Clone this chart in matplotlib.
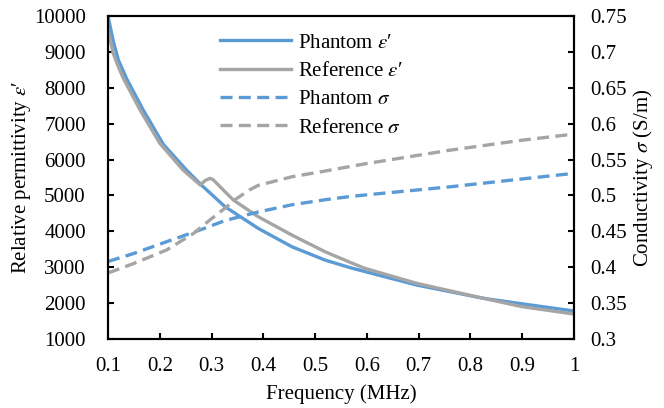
import matplotlib.pyplot as plt
from matplotlib.ticker import FuncFormatter

plt.rcParams['font.family'] = ['Liberation Serif', 'DejaVu Serif']
plt.rcParams['mathtext.fontset'] = 'stix'
plt.rcParams['font.size'] = 15

# Phantom permittivity (blue solid)
f_ph_eps = [0.100, 0.110, 0.120, 0.136, 0.168, 0.207, 0.252, 0.281, 0.326, 0.390,
            0.455, 0.519, 0.567, 0.596, 0.696, 0.825, 0.900, 1.000]
ph_eps = [10000, 9300, 8772, 8250, 7379, 6420, 5700, 5280, 4685, 4083,
          3571, 3200, 2990, 2880, 2504, 2134, 1980, 1780]

# Reference permittivity (gray solid)
f_ref_eps = [0.100, 0.110, 0.120, 0.130, 0.162, 0.200, 0.245, 0.278, 0.288, 0.297,
             0.303, 0.310, 0.326, 0.342, 0.390, 0.455, 0.519, 0.567, 0.596, 0.696,
             0.825, 0.900, 1.000]
ref_eps = [9607, 8958, 8585, 8250, 7379, 6451, 5708, 5290, 5420, 5476,
           5440, 5337, 5103, 4872, 4407, 3897, 3432, 3140, 2969, 2552,
           2134, 1900, 1696]

# Phantom conductivity (blue dashed)
f_ph_sig = [0.100, 0.149, 0.213, 0.278, 0.326, 0.390, 0.455, 0.519, 0.567, 0.596,
            0.760, 0.900, 1.000]
ph_sig = [0.408, 0.419, 0.4355, 0.452, 0.465, 0.477, 0.487, 0.494, 0.4985, 0.5006,
          0.512, 0.523, 0.5308]

# Reference conductivity (gray dashed)
f_ref_sig = [0.100, 0.149, 0.213, 0.265, 0.297, 0.329, 0.345, 0.374, 0.390, 0.455,
             0.519, 0.596, 0.760, 0.900, 1.000]
ref_sig = [0.392, 0.405, 0.424, 0.447, 0.466, 0.484, 0.494, 0.508, 0.514, 0.526,
           0.534, 0.544, 0.563, 0.577, 0.5855]

blue = '#5B9BD5'
gray = '#A5A5A5'
eps = r"$\varepsilon$" + "\u2032"

fig = plt.figure(figsize=(6.64, 4.08), dpi=100)
ax = fig.add_axes([0.1627, 0.1691, 0.7018, 0.7917])
ax2 = ax.twinx()

dash = (0, (3.6, 1.9))
l1, = ax.plot(f_ph_eps, ph_eps, color=blue, lw=2.4, label="Phantom " + eps)
l2, = ax.plot(f_ref_eps, ref_eps, color=gray, lw=2.4, label="Reference " + eps)
l3, = ax2.plot(f_ph_sig, ph_sig, color=blue, lw=2.4, ls=dash, label=r"Phantom $\sigma$")
l4, = ax2.plot(f_ref_sig, ref_sig, color=gray, lw=2.4, ls=dash, label=r"Reference $\sigma$")

ax.set_xlim(0.1, 1)
ax.set_ylim(1000, 10000)
ax2.set_ylim(0.3, 0.75)
ax.set_xticks([0.1, 0.2, 0.3, 0.4, 0.5, 0.6, 0.7, 0.8, 0.9, 1.0])
ax.set_yticks(range(1000, 10001, 1000))
ax2.set_yticks([0.3, 0.35, 0.4, 0.45, 0.5, 0.55, 0.6, 0.65, 0.7, 0.75])
ax.xaxis.set_major_formatter(FuncFormatter(lambda v, p: f"{v:g}"))
ax2.yaxis.set_major_formatter(FuncFormatter(lambda v, p: f"{v:g}"))

for a in (ax, ax2):
    for s in a.spines.values():
        s.set_linewidth(1.5)
    a.tick_params(direction='in', length=4, width=1.5, labelsize=15)
ax.tick_params(axis='x', pad=13)
ax.tick_params(axis='y', pad=16)
ax2.tick_params(axis='y', pad=12)

ax.set_xlabel('Frequency (MHz)', fontsize=15, labelpad=6)
ax.set_ylabel("Relative permittivity " + eps, fontsize=15, labelpad=1)
ax2.set_ylabel(r"Conductivity $\sigma$ (S/m)", fontsize=15, labelpad=3)

ax2.legend(handles=[l1, l2, l3, l4], loc='upper left', bbox_to_anchor=(0.223, 0.973),
           borderaxespad=0, frameon=False, handlelength=3.4, handletextpad=0.35,
           labelspacing=0.42, fontsize=15)

fig.savefig('out.png', dpi=100)
